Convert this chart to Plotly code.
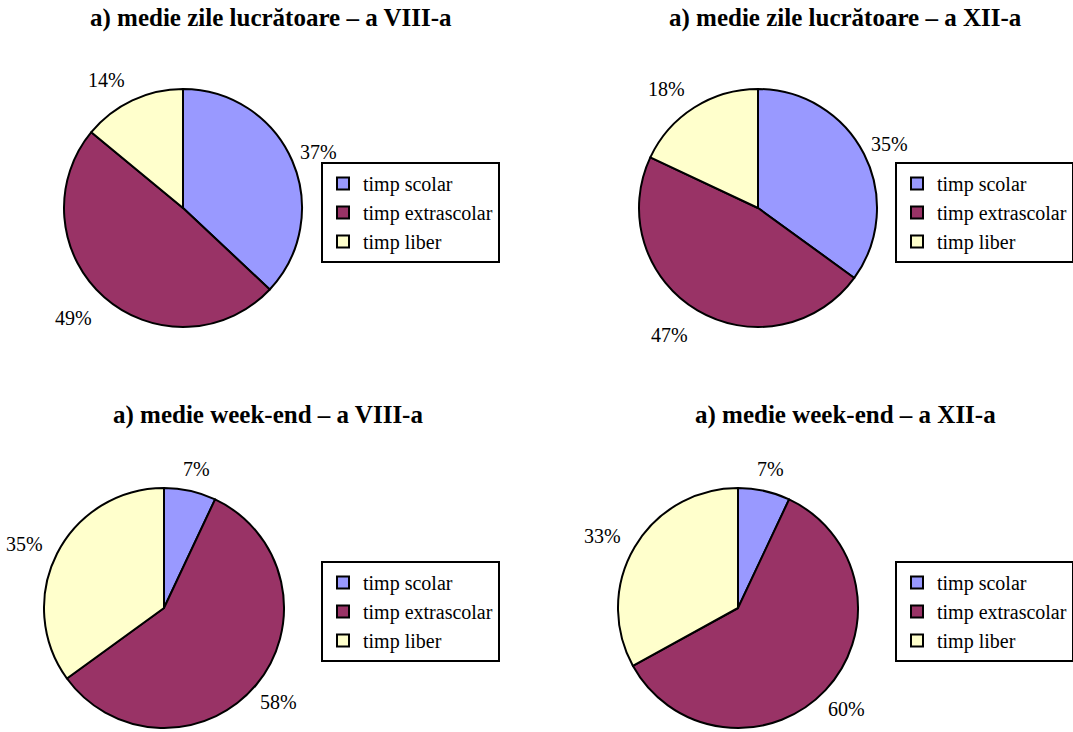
import math
import plotly.graph_objects as go

categories = ["timp scolar", "timp extrascolar", "timp liber"]
colors = ["#9999FF", "#993366", "#FFFFCC"]

titles = [
    "a) medie zile lucrătoare – a VIII-a",
    "a) medie zile lucrătoare – a XII-a",
    "a) medie week-end – a VIII-a",
    "a) medie week-end – a XII-a",
]
values_zile_viii = [37, 49, 14]
values_zile_xii = [35, 47, 18]
values_we_viii = [7, 58, 35]
values_we_xii = [7, 60, 33]
series = [values_zile_viii, values_zile_xii, values_we_viii, values_we_xii]

W, H = 1073, 732
FONT = "Liberation Serif"

# layout: pie centers/radius in px, title centers, legend top-left
pies = [
    dict(cx=183, cy=208, r=119, tx=271, ty=18, lx=321, ly=162),
    dict(cx=758, cy=208, r=119, tx=845, ty=18, lx=895, ly=162),
    dict(cx=164, cy=608, r=120, tx=268, ty=415, lx=321, ly=561),
    dict(cx=738, cy=608, r=120, tx=845, ty=415, lx=895, ly=561),
]


def label_pos(p, frac_mid):
    """Place a percent label just outside the rim, along the slice mid-angle."""
    a = frac_mid * 2 * math.pi
    s, c = math.sin(a), math.cos(a)
    d = p["r"] + 10
    x = p["cx"] + d * s + 19 * s - (15 * abs(c) if s < 0 else 0)
    y = p["cy"] - d * c - (12 if c > 0 else 18) * c
    return x, y


fig = go.Figure()
annotations = []
legend_layouts = {}
for i, (vals, p, title) in enumerate(zip(series, pies, titles)):
    lname = "legend" if i == 0 else f"legend{i+1}"
    fig.add_trace(go.Pie(
        labels=categories,
        values=vals,
        sort=False,
        direction="clockwise",
        rotation=0,
        marker=dict(colors=colors, line=dict(color="black", width=2)),
        textinfo="none",
        hoverinfo="label+percent",
        domain=dict(
            x=[(p["cx"] - p["r"]) / W, (p["cx"] + p["r"]) / W],
            y=[1 - (p["cy"] + p["r"]) / H, 1 - (p["cy"] - p["r"]) / H],
        ),
        legend=lname,
        legendgroup=f"g{i}",
        showlegend=True,
    ))
    legend_layouts[lname] = dict(
        x=p["lx"] / W, y=1 - p["ly"] / H, xanchor="left", yanchor="top",
        bgcolor="white", bordercolor="black", borderwidth=2,
        font=dict(family=FONT, size=20, color="black"),
        traceorder="normal",
    )
    annotations.append(dict(
        text=f"<b>{title}</b>", x=p["tx"] / W, y=1 - p["ty"] / H,
        xref="paper", yref="paper", xanchor="center", yanchor="middle",
        showarrow=False, font=dict(family=FONT, size=25, color="black"),
    ))
    total = sum(vals)
    cum = 0
    for v in vals:
        px, py = label_pos(p, (cum + v / 2) / total)
        cum += v
        annotations.append(dict(
            text=f"{round(v / total * 100)}%", x=px / W, y=1 - py / H,
            xref="paper", yref="paper", xanchor="center", yanchor="middle",
            showarrow=False, font=dict(family=FONT, size=20, color="black"),
        ))

fig.update_layout(
    width=W, height=H,
    margin=dict(l=0, r=0, t=0, b=0, autoexpand=False),
    paper_bgcolor="white", plot_bgcolor="white",
    annotations=annotations,
    font=dict(family=FONT, color="black"),
    **legend_layouts,
)

fig.write_html(
    "out.html",
    config={"displayModeBar": False},
    post_script="document.body.style.margin='0px';",
)
